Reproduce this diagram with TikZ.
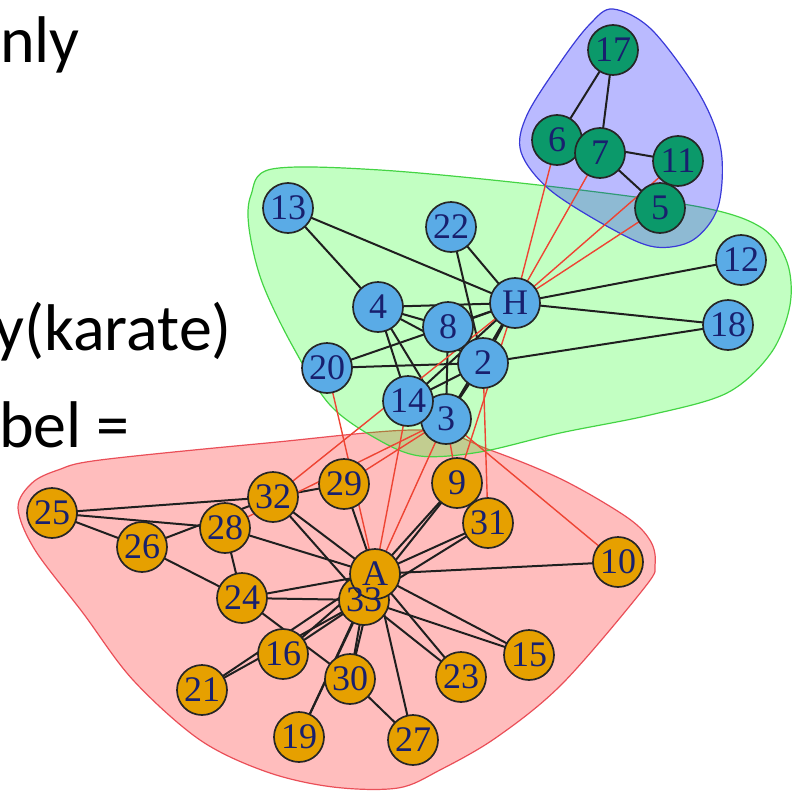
\documentclass[tikz,border=0pt]{standalone}
\usepackage{fontspec}
\setmainfont{Liberation Serif}
\newfontfamily\slidefont{Carlito}
\pgfdeclarelayer{hull}
\pgfdeclarelayer{edges}
\pgfdeclarelayer{labels}
\pgfsetlayers{hull,edges,main,labels}
\definecolor{vblue}{HTML}{5AABE6}
\definecolor{vgreen}{HTML}{0B996A}
\definecolor{vorange}{HTML}{E6A000}
\definecolor{labcol}{HTML}{18206E}
\definecolor{redge}{HTML}{EE4433}
\definecolor{hullred}{HTML}{E8404A}
\definecolor{hullgreen}{HTML}{44D444}
\definecolor{hullblue}{HTML}{3A3AD8}
\begin{document}
\begin{tikzpicture}[x=1pt,y=-1pt,
  vtx/.style={circle, draw=black!85, line width=1.7pt, minimum size=50pt, inner sep=0pt},
  vb/.style={vtx, fill=vblue},
  vg/.style={vtx, fill=vgreen},
  vo/.style={vtx, fill=vorange},
  lab/.style={text=labcol, font=\fontsize{36}{42}\selectfont, inner sep=0pt},
  edgeline/.style={line width=2pt, draw=black!88},
  crossline/.style={line width=1.4pt, draw=redge},
  slide/.style={font=\slidefont\fontsize{66}{79}\selectfont, inner sep=0pt, text=black}]
\useasboundingbox (0,0) rectangle (800,795);
% vertices
\node[vb] (n1) at (515,303) {};
\node[vb] (n2) at (483,363) {};
\node[vb] (n3) at (446,419) {};
\node[vb] (n4) at (378,307) {};
\node[vg] (n5) at (660,208) {};
\node[vg] (n6) at (557,140) {};
\node[vg] (n7) at (600,153) {};
\node[vb] (n8) at (448,327) {};
\node[vo] (n9) at (457,483) {};
\node[vo] (n10) at (618,562) {};
\node[vg] (n11) at (678,161) {};
\node[vb] (n12) at (741,260) {};
\node[vb] (n13) at (288,208) {};
\node[vb] (n14) at (408,401) {};
\node[vo] (n15) at (529,655) {};
\node[vo] (n16) at (283,654) {};
\node[vg] (n17) at (613,50) {};
\node[vb] (n18) at (728,325) {};
\node[vo] (n19) at (299,737) {};
\node[vb] (n20) at (327,368) {};
\node[vo] (n21) at (202,690) {};
\node[vb] (n22) at (451,227) {};
\node[vo] (n23) at (461,677) {};
\node[vo] (n24) at (242,598) {};
\node[vo] (n25) at (52,513) {};
\node[vo] (n26) at (142,547) {};
\node[vo] (n27) at (413,740) {};
\node[vo] (n28) at (225,528) {};
\node[vo] (n29) at (344,484) {};
\node[vo] (n30) at (350,679) {};
\node[vo] (n31) at (488,523) {};
\node[vo] (n32) at (273,497) {};
\node[vo] (n33) at (364,600) {};
\node[vo] (n34) at (375,574) {};
% labels
\begin{pgfonlayer}{labels}
\foreach \i in {2,3,4,5,6,7,8,9,10,11,12,13,14,15,16,17,18,19,20,21,22,23,24,25,26,27,28,29,30,31,32,33}
  \node[lab] (l\i) at (n\i.center) {\i};
\node[lab] (l1) at (n1.center) {H};
\node[lab] (l34) at (n34.center) {A};
\end{pgfonlayer}
% hulls
\begin{pgfonlayer}{hull}
\filldraw[fill=red, fill opacity=0.26, draw=hullred, draw opacity=0.9, line width=1.2pt]
  plot[smooth cycle, tension=0.55] coordinates {(18,508) (32,483) (58,470) (100,460) (267,443) (423,430) (490,450) (563,480) (628,518) (651,542) (655,565) (645,587) (563,683) (497,737) (440,770) (398,788) (333,787) (267,772) (200,740) (133,680) (83,613) (35,550)};
\filldraw[fill=green, fill opacity=0.24, draw=hullgreen, line width=1.2pt]
  plot[smooth cycle, tension=0.55] coordinates {(251,195) (272,169) (380,170) (547,186) (700,207) (762,228) (787,262) (790,305) (771,353) (727,393) (650,415) (560,433) (480,452) (420,456) (377,439) (330,405) (292,345) (262,282) (249,228)};
\filldraw[fill=blue, fill opacity=0.27, draw=hullblue, line width=1.2pt]
  plot[smooth cycle, tension=0.55] coordinates {(613,9) (652,30) (700,95) (721,150) (718,207) (693,240) (655,247) (612,229) (550,190) (521,152) (527,115) (562,60) (590,24)};
\end{pgfonlayer}
% edges
\begin{pgfonlayer}{edges}
\foreach \a/\b in {5/7,5/11,6/7,6/11,6/17,7/17,
  1/2,1/3,1/4,1/8,1/12,1/13,1/14,1/18,1/20,1/22,2/3,2/4,2/8,2/14,2/18,2/20,2/22,3/4,3/8,3/14,4/8,4/13,4/14,
  9/31,9/33,9/34,10/34,15/33,15/34,16/33,16/34,19/33,19/34,21/33,21/34,23/33,23/34,24/26,24/28,24/30,24/33,24/34,
  25/26,25/28,25/32,26/32,27/30,27/34,28/34,29/32,29/34,30/33,30/34,31/33,31/34,32/33,32/34,33/34}
  \draw[edgeline] (n\a.center) -- (n\b.center);
\foreach \a/\b in {1/5,1/6,1/7,1/11,1/9,1/32,2/31,3/9,3/10,3/28,3/29,3/33,14/34,20/34}
  \draw[crossline] (n\a.center) -- (n\b.center);
\end{pgfonlayer}
% slide text
\node[slide, anchor=base west] (t1) at (0,62) {nly};
\node[slide, anchor=base east] (t2) at (232,350) {y(karate)};
\node[slide, anchor=base east] (t3) at (130,447) {bel =};
\end{tikzpicture}
\end{document}
